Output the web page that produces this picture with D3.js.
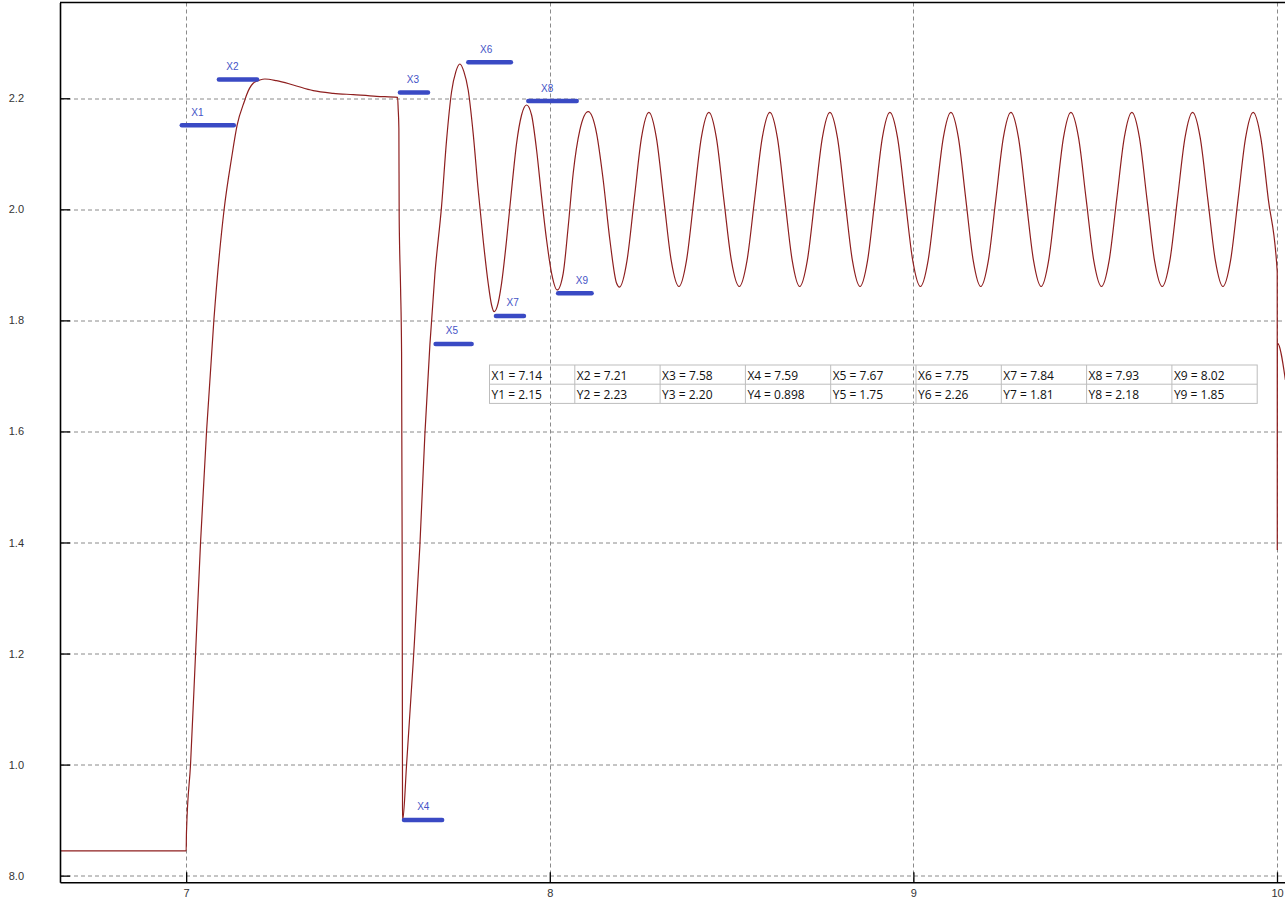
<!DOCTYPE html>
<html><head><meta charset="utf-8">
<script src="https://cdn.jsdelivr.net/npm/d3@7"></script>
<style>body{margin:0;background:#fff;} svg{display:block}</style>
</head><body>
<svg id="chart" width="1285" height="908"></svg>
<script>
// ---- data ----
const xValues = [
  6.653, 7.0, 7.0008, 7.0121, 7.0259, 7.0396, 7.0561, 7.0762, 7.1045, 7.1249, 7.1403, 7.1614,
  7.1661, 7.1843, 7.2027, 7.2164, 7.2486, 7.2943, 7.3493, 7.4043, 7.4593, 7.5237, 7.5814,
  7.5831, 7.5850, 7.5858, 7.5897, 7.5924, 7.5941, 7.5950, 7.5955,
  7.6062, 7.6243, 7.6427, 7.6565, 7.6703, 7.6840, 7.7024, 7.7162, 7.7299, 7.7417, 7.7528,
  7.7638, 7.7756, 7.7893, 7.8031, 7.8168, 7.8306, 7.8399, 7.8471, 7.8553, 7.8674, 7.8812,
  7.8949, 7.9087, 7.9224, 7.9362, 7.9499, 7.9637, 7.9774, 7.9912, 8.0050, 8.0204, 8.0369,
  8.0506, 8.0644, 8.0828, 8.1056, 8.1287, 8.1469, 8.1653, 8.1837,
  8.1917, 8.2122, 8.2322, 8.2522, 8.2726, 8.2931, 8.3136, 8.3341,
  8.3553, 8.3758, 8.3963, 8.4168, 8.4376, 8.4581, 8.4786, 8.4996,
  8.5213, 8.5423, 8.5633, 8.5843, 8.6054, 8.6259, 8.6464, 8.6669,
  8.6873, 8.7081, 8.7289, 8.7497, 8.7704, 8.7911, 8.8118, 8.8325,
  8.8533, 8.8738, 8.8943, 8.9148, 8.9354, 8.9564, 8.9774, 8.9984,
  9.0193, 9.0403, 9.0613, 9.0823, 9.1032, 9.1237, 9.1442, 9.1647,
  9.1853, 9.2060, 9.2267, 9.2474, 9.2682, 9.2890, 9.3098, 9.3306,
  9.3513, 9.3718, 9.3923, 9.4128, 9.4332, 9.4542, 9.4752, 9.4962,
  9.5173, 9.5382, 9.5591, 9.5800, 9.6009, 9.6217, 9.6425, 9.6633,
  9.6843, 9.7052, 9.7261, 9.7470, 9.7679, 9.7888, 9.8097, 9.8306,
  9.8513, 9.8721, 9.8929, 9.9137, 9.9345, 9.9553, 9.9761,
  10.0006, 10.0008, 10.0010, 10.0231
];
const yValues = [
  0.8445, 0.8445, 0.8769, 1.0015, 1.2011, 1.4009, 1.6008, 1.8007, 2.0006, 2.0924, 2.1519, 2.1969,
  2.2059, 2.2270, 2.2329, 2.2347, 2.2317, 2.2240, 2.2137, 2.2090, 2.2065, 2.2036, 2.2018,
  2.1805, 2.1456, 1.9882, 1.8571, 1.7435, 1.3588, 0.9216, 0.8998,
  1.0003, 1.1839, 1.3937, 1.5947, 1.7564, 1.8832, 2.0057, 2.1250, 2.2118, 2.2479, 2.2617,
  2.2479, 2.2149, 2.1369, 2.0348, 1.9448, 1.8668, 1.8277, 1.8157, 1.8247, 1.8668, 1.9448,
  2.0348, 2.1189, 2.1699, 2.1879, 2.1699, 2.1069, 2.0228, 1.9448, 1.8848, 1.8548, 1.8848,
  1.9687, 2.0649, 2.1429, 2.1758, 2.1369, 2.0528, 1.9448, 1.8668,
  1.860, 1.907, 2.018, 2.129, 2.1745, 2.129, 2.018, 1.907,
  1.861, 1.907, 2.018, 2.129, 2.1745, 2.129, 2.018, 1.907,
  1.861, 1.907, 2.018, 2.129, 2.1745, 2.129, 2.018, 1.907,
  1.861, 1.907, 2.018, 2.129, 2.1745, 2.129, 2.018, 1.907,
  1.861, 1.907, 2.018, 2.129, 2.1745, 2.129, 2.018, 1.907,
  1.861, 1.907, 2.018, 2.129, 2.1745, 2.129, 2.018, 1.907,
  1.861, 1.907, 2.018, 2.129, 2.1745, 2.129, 2.018, 1.907,
  1.861, 1.907, 2.018, 2.129, 2.1745, 2.129, 2.018, 1.907,
  1.861, 1.907, 2.018, 2.129, 2.1745, 2.129, 2.018, 1.907,
  1.861, 1.907, 2.018, 2.129, 2.1745, 2.129, 2.018, 1.907,
  1.861, 1.907, 2.018, 2.129, 2.1745, 2.129, 2.018,
  1.8877, 1.3866, 1.7593, 1.6926
];
const xTicks = [7, 8, 9, 10];
const xTickLabels = ["7", "8", "9", "10"];
const yTicks = [0.8, 1.0, 1.2, 1.4, 1.6, 1.8, 2.0, 2.2];
const yTickLabels = ["8.0", "1.0", "1.2", "1.4", "1.6", "1.8", "2.0", "2.2"];
const xDomain = [6.653, 10.022];
const yDomain = [0.788, 2.3725];

const markerNames = ["1", "2", "3", "4", "5", "6", "7", "8", "9"];
const markerX = [7.14, 7.21, 7.58, 7.59, 7.67, 7.75, 7.84, 7.93, 8.02];
const markerY = [2.15, 2.23, 2.20, 0.898, 1.75, 2.26, 1.81, 2.18, 1.85];
// marker bar placement on the plot (data units)
const barStartX = [6.988, 7.090, 7.588, 7.599, 7.686, 7.776, 7.852, 7.941, 8.023];
const barEndX   = [7.131, 7.195, 7.665, 7.704, 7.785, 7.893, 7.929, 8.074, 8.115];
const barLevelY = [2.1514, 2.234, 2.2106, 0.9003, 1.7575, 2.2648, 1.8079, 2.1951, 1.8488];
const labelCenterX = [7.031, 7.127, 7.6235, 7.652, 7.731, 7.825, 7.898, 7.9926, 8.0883];

// ---- drawing ----
const svg = d3.select("#chart");
const W = 1285, H = 908;
const m = {left: 60, top: 2.5, right: 0, bottom: 25.7};
const iw = W - m.left - m.right, ih = H - m.top - m.bottom;
const g = svg.append("g").attr("transform", `translate(${m.left},${m.top})`);

const x = d3.scaleLinear().domain(xDomain).range([0, iw]);
const y = d3.scaleLinear().domain(yDomain).range([ih, 0]);

svg.append("defs").append("clipPath").attr("id", "clip")
  .append("rect").attr("x", 0).attr("y", 0).attr("width", iw).attr("height", ih);

// grid
const grid = g.append("g").attr("stroke", "#8a8a8a").attr("stroke-width", 1).attr("stroke-dasharray", "4,3");
grid.selectAll(".gx").data(xTicks).join("line")
  .attr("x1", d => Math.round(x(d)) + 0.5).attr("x2", d => Math.round(x(d)) + 0.5)
  .attr("y1", 0).attr("y2", ih);
grid.selectAll(".gy").data(yTicks).join("line")
  .attr("x1", 0).attr("x2", iw)
  .attr("y1", d => Math.round(y(d)) + 0.5).attr("y2", d => Math.round(y(d)) + 0.5);

// table of marker values
const fmt = d3.format(".3r");
const tbl = g.append("g").attr("transform", `translate(${489.5 - m.left},${365 - m.top})`);
const colW = 85.3, rowH = 19.2;
tbl.append("rect").attr("x", 0).attr("y", 0).attr("width", colW * markerNames.length).attr("height", rowH * 2)
  .attr("fill", "none").attr("stroke", "#bdbdbd");
tbl.append("line").attr("x1", 0).attr("x2", colW * markerNames.length).attr("y1", rowH).attr("y2", rowH)
  .attr("stroke", "#bdbdbd");
tbl.selectAll(".cs").data(d3.range(1, markerNames.length)).join("line")
  .attr("x1", d => d * colW).attr("x2", d => d * colW).attr("y1", 0).attr("y2", rowH * 2)
  .attr("stroke", "#bdbdbd");
tbl.selectAll(".tx").data(markerNames).join("text")
  .attr("x", (d, i) => i * colW + 2).attr("y", 15)
  .attr("font-family", "Open Sans").attr("font-size", 12).attr("fill", "#111")
  .text((d, i) => `X${d} = ${fmt(markerX[i])}`);
tbl.selectAll(".ty").data(markerNames).join("text")
  .attr("x", (d, i) => i * colW + 2).attr("y", rowH + 15)
  .attr("font-family", "Open Sans").attr("font-size", 12).attr("fill", "#111")
  .text((d, i) => `Y${d} = ${fmt(markerY[i])}`);

// curve
const pts = xValues.map((v, i) => [v, yValues[i]]);
g.append("path").datum(pts)
  .attr("clip-path", "url(#clip)")
  .attr("fill", "none").attr("stroke", "#8e1f1f").attr("stroke-width", 1.2)
  .attr("d", d3.line().x(d => x(d[0])).y(d => y(d[1])).curve(d3.curveMonotoneX));

// marker bars + labels
g.selectAll(".bar").data(markerNames).join("line")
  .attr("x1", (d, i) => x(barStartX[i])).attr("x2", (d, i) => x(barEndX[i]))
  .attr("y1", (d, i) => y(barLevelY[i])).attr("y2", (d, i) => y(barLevelY[i]))
  .attr("stroke", "#3a4ac4").attr("stroke-width", 4.5).attr("stroke-linecap", "round");
g.selectAll(".blab").data(markerNames).join("text")
  .attr("x", (d, i) => x(labelCenterX[i])).attr("y", (d, i) => y(barLevelY[i]) - 9.5)
  .attr("text-anchor", "middle")
  .attr("font-family", "Liberation Sans").attr("font-size", 10).attr("fill", "#4453c6")
  .text(d => "X" + d);

// axes
const yAxis = d3.axisLeft(y).tickValues(yTicks).tickFormat((d, i) => yTickLabels[i])
  .tickSizeInner(-10).tickSizeOuter(0).tickPadding(36);
const ya = g.append("g").call(yAxis);
const xAxis = d3.axisBottom(x).tickValues(xTicks).tickFormat((d, i) => xTickLabels[i])
  .tickSizeInner(-10).tickSizeOuter(0).tickPadding(7);
const xa = g.append("g").attr("transform", `translate(0,${ih})`).call(xAxis);
[ya, xa].forEach(a => {
  a.select(".domain").attr("stroke", "#000").attr("stroke-width", 1.6);
  a.selectAll(".tick line").attr("stroke", "#000").attr("stroke-width", 1.3);
  a.selectAll(".tick text").attr("font-family", "Liberation Sans").attr("font-size", 11).attr("fill", "#333");
});
// top border
g.append("line").attr("x1", 0).attr("x2", iw).attr("y1", 0).attr("y2", 0)
  .attr("stroke", "#000").attr("stroke-width", 1.6);
</script>
</body></html>
